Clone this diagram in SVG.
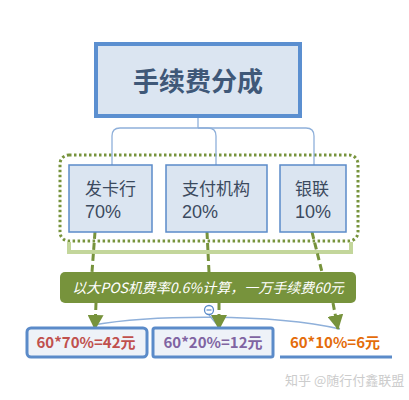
<svg xmlns="http://www.w3.org/2000/svg" width="409" height="400" viewBox="0 0 409 400">
<style>
text{font-family:"Noto Sans CJK SC","Liberation Sans",sans-serif}
.box{fill:#dbe5f1;stroke:#5b8bc9;stroke-width:1.5}
.lbl{font-size:17px;fill:#3b4a5e}
.pct{font-family:"Liberation Sans","Noto Sans CJK SC",sans-serif;font-size:18px;fill:#3b4a5e}
.conn{fill:none;stroke:#8fb0da;stroke-width:1.3}
.dash{fill:none;stroke:#77933c;stroke-width:3;stroke-dasharray:7 4}
.res{fill:#eef2f8;stroke:#5b8bc9;stroke-width:3}
.rt{font-size:15px;font-weight:bold;text-anchor:middle}
</style>
<defs>
<marker id="ah" markerUnits="userSpaceOnUse" markerWidth="16" markerHeight="16" viewBox="0 0 16 16" refX="14" refY="8" orient="auto">
<path d="M0,0 L15,8 L0,16 Z" fill="#77933c"/>
</marker>
</defs>
<rect width="409" height="400" fill="#ffffff"/>

<g id="root">
<rect x="96" y="44" width="204" height="72" fill="#dbe5f1" stroke="#5b8fd0" stroke-width="4"/>
<text x="198" y="91" font-size="26" font-weight="bold" fill="#3f5878" text-anchor="middle">手续费分成</text>
</g>

<g id="group-outline">
<rect x="60" y="155" width="298" height="86" rx="9" fill="none" stroke="#77933c" stroke-width="3" stroke-dasharray="2.5 2.5"/>
<path d="M69,242 V252 H351 V242" fill="none" stroke="#c3d69b" stroke-width="4"/>
</g>

<g id="connectors">
<path class="conn" d="M198,118 V128"/>
<path class="conn" d="M198,128 H120 Q112,128 112,136 V165"/>
<path class="conn" d="M198,128 H208 Q216,128 216,136 V165"/>
<path class="conn" d="M198,128 H306 Q314,128 314,136 V165"/>
<path class="dash" d="M95,232 L92,272"/>
<path class="dash" d="M207,232 L209,272"/>
<path class="dash" d="M312,232 L322,272"/>
<path class="conn" d="M93,325 C150,315 270,313 340,329"/>
<path class="conn" d="M209,315 L219,327"/>
<path class="dash" d="M96,303 L95,329" marker-end="url(#ah)"/>
<path class="dash" d="M219,303 L219,329" marker-end="url(#ah)"/>
<path class="dash" d="M333,303 L338,329" marker-end="url(#ah)"/>
<circle cx="209" cy="310" r="4.5" fill="#ffffff" stroke="#5b8bc9" stroke-width="1.3"/>
<path d="M206.5,310 H211.5" stroke="#5b8bc9" stroke-width="1.2"/>
</g>

<g id="issuer">
<rect class="box" x="69" y="165" width="83" height="67"/>
<text class="lbl" x="85" y="195">发卡行</text>
<text class="pct" x="85" y="218">70%</text>
</g>
<g id="payment">
<rect class="box" x="166" y="165" width="101" height="67"/>
<text class="lbl" x="182" y="195">支付机构</text>
<text class="pct" x="182" y="218">20%</text>
</g>
<g id="unionpay">
<rect class="box" x="280" y="165" width="66" height="67"/>
<text class="lbl" x="295" y="195">银联</text>
<text class="pct" x="295" y="218">10%</text>
</g>

<g id="note">
<rect x="60" y="272" width="296" height="31" rx="5" fill="#77933c"/>
<text x="208" y="293" font-size="14" font-style="italic" fill="#ffffff" text-anchor="middle">以大POS机费率0.6%计算，一万手续费60元</text>
</g>

<g id="result1">
<rect class="res" x="27" y="328" width="120" height="29" rx="4"/>
<text class="rt" x="86" y="348" fill="#c0504d">60*70%=42元</text>
</g>
<g id="result2">
<rect class="res" x="153" y="328" width="120" height="29" rx="2"/>
<text class="rt" x="213" y="348" fill="#8064a2">60*20%=12元</text>
</g>
<g id="result3">
<path d="M280,357 H392" stroke="#5b8bc9" stroke-width="3"/>
<text class="rt" x="335" y="348" fill="#e46c0a">60*10%=6元</text>
</g>

<text x="285" y="385" font-size="13" fill="#cccccc">知乎 @随行付鑫联盟</text>
</svg>
